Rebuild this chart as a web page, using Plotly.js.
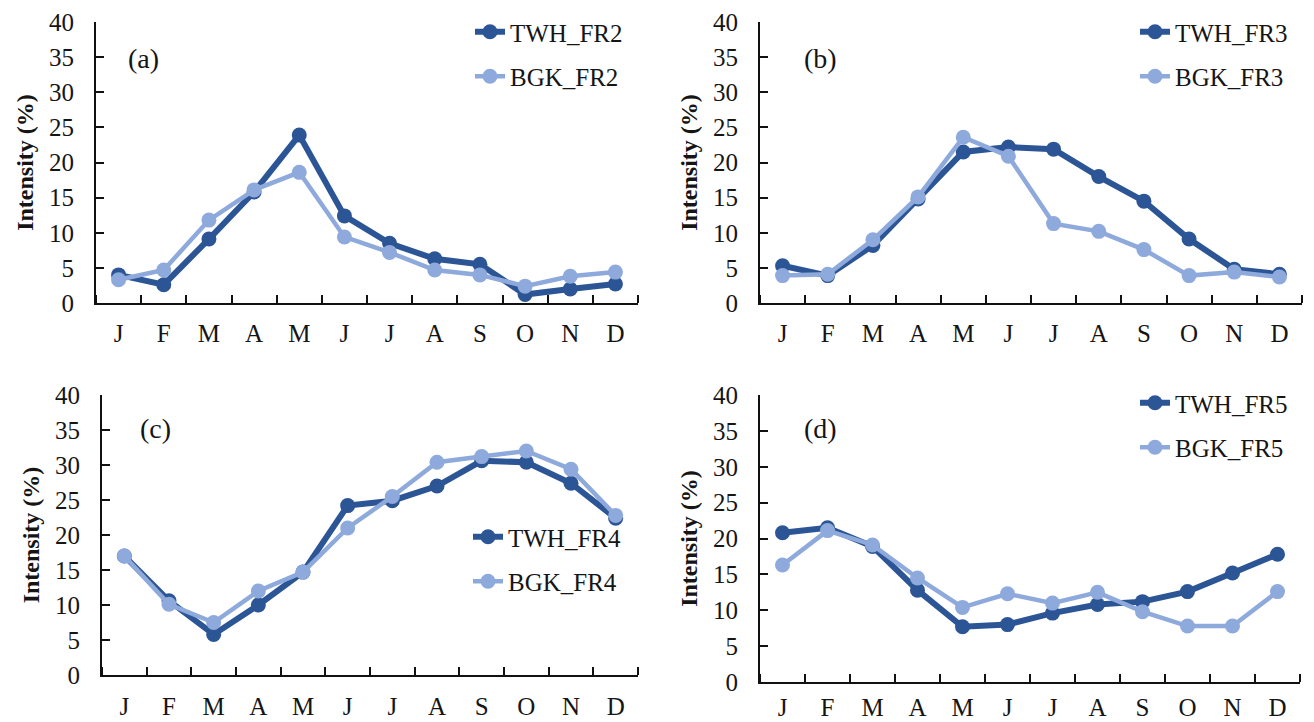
<!DOCTYPE html>
<html>
<head>
<meta charset="utf-8">
<script src="https://cdn.plot.ly/plotly-3.0.1.min.js"></script>
<style>
html,body{margin:0;padding:0;background:#fff;}
#chart{width:1314px;height:722px;}
</style>
</head>
<body>
<div id="chart"></div>
<script>
// ---- data ----
const MONTHS = ["J","F","M","A","M","J","J","A","S","O","N","D"];

const TWH_FR2 = [4.0, 2.6, 9.1, 15.8, 23.9, 12.4, 8.5, 6.3, 5.5, 1.2, 2.0, 2.7];
const BGK_FR2 = [3.3, 4.7, 11.8, 16.1, 18.6, 9.4, 7.2, 4.7, 4.0, 2.4, 3.8, 4.4];

const TWH_FR3 = [5.3, 3.9, 8.2, 14.8, 21.5, 22.2, 21.9, 18.0, 14.5, 9.1, 4.8, 4.1];
const BGK_FR3 = [3.9, 4.1, 9.0, 15.1, 23.6, 20.9, 11.3, 10.2, 7.6, 3.9, 4.4, 3.7];

const TWH_FR4 = [17.0, 10.6, 5.8, 10.0, 14.7, 24.2, 24.9, 27.0, 30.6, 30.4, 27.4, 22.4];
const BGK_FR4 = [17.0, 10.1, 7.5, 12.0, 14.7, 21.0, 25.5, 30.4, 31.2, 32.0, 29.4, 22.8];

const TWH_FR5 = [20.8, 21.5, 18.9, 12.8, 7.7, 8.0, 9.6, 10.8, 11.2, 12.6, 15.2, 17.8];
const BGK_FR5 = [16.3, 21.1, 19.1, 14.5, 10.4, 12.3, 11.0, 12.5, 9.8, 7.8, 7.8, 12.6];

const PANELS = [
  {label: "(a)", twhName: "TWH_FR2", bgkName: "BGK_FR2", twh: TWH_FR2, bgk: BGK_FR2},
  {label: "(b)", twhName: "TWH_FR3", bgkName: "BGK_FR3", twh: TWH_FR3, bgk: BGK_FR3},
  {label: "(c)", twhName: "TWH_FR4", bgkName: "BGK_FR4", twh: TWH_FR4, bgk: BGK_FR4},
  {label: "(d)", twhName: "TWH_FR5", bgkName: "BGK_FR5", twh: TWH_FR5, bgk: BGK_FR5}
];
const Y_TICKS = [0, 5, 10, 15, 20, 25, 30, 35, 40];

// ---- styling / layout ----
const W = 1314, H = 722;
const DARK = "#2C5596";
const LIGHT = "#8EA9DB";
const SERIF = "Liberation Serif, Times New Roman, serif";
const TXT = "#151515";

// plot boxes in pixels: [left, right, top, bottom]
const BOXES = [
  [96, 638, 22, 303],
  [760, 1302, 22, 303],
  [102, 638, 395, 675],
  [760, 1300, 395, 682]
];
// x tick label standoff per panel
const XSTAND = [7, 7, 8, 2];
// legend anchors (px): left, top
const LEGPOS = [
  [470, 9],
  [1135, 9],
  [468, 514],
  [1135, 380]
];
// panel label centers (px)
const LABPOS = [
  [143, 58], [820, 58], [155, 428], [820, 428]
];

const xIdx = MONTHS.map((_, i) => i);
const boundaries = MONTHS.map((_, i) => i - 0.5).concat([MONTHS.length - 0.5]);

const traces = [];
const layout = {
  width: W, height: H,
  margin: {l: 0, r: 0, t: 0, b: 0},
  paper_bgcolor: "#fff",
  plot_bgcolor: "rgba(0,0,0,0)",
  showlegend: true,
  font: {family: SERIF, color: TXT, size: 24},
  annotations: []
};

PANELS.forEach((p, k) => {
  const n = k + 1;
  const xa = n === 1 ? "x" : "x" + n;
  const ya = n === 1 ? "y" : "y" + n;
  const legName = n === 1 ? "legend" : "legend" + n;
  traces.push({
    x: xIdx, y: p.twh, name: p.twhName, type: "scatter", mode: "lines+markers",
    xaxis: xa, yaxis: ya, legend: legName, legendgroup: "t" + n,
    line: {color: DARK, width: 6},
    marker: {color: DARK, size: 15}
  });
  traces.push({
    x: xIdx, y: p.bgk, name: p.bgkName, type: "scatter", mode: "lines+markers",
    xaxis: xa, yaxis: ya, legend: legName, legendgroup: "b" + n,
    line: {color: LIGHT, width: 4.5},
    marker: {color: LIGHT, size: 15}
  });

  const b = BOXES[k];
  const xKey = n === 1 ? "xaxis" : "xaxis" + n;
  const yKey = n === 1 ? "yaxis" : "yaxis" + n;
  layout[xKey] = {
    domain: [b[0] / W, b[1] / W],
    anchor: ya,
    range: [-0.5, MONTHS.length - 0.5],
    tickmode: "array",
    tickvals: xIdx,
    ticktext: MONTHS,
    ticks: "",
    ticklabelstandoff: XSTAND[k],
    tickfont: {family: SERIF, size: 25, color: TXT},
    showline: true, linecolor: "#111", linewidth: 2,
    showgrid: false, zeroline: false, automargin: false,
    fixedrange: true,
    minor: {tickmode: "array", tickvals: boundaries, ticks: "inside", ticklen: 8, tickwidth: 2, tickcolor: "#111", showgrid: false}
  };
  layout[yKey] = {
    domain: [1 - b[3] / H, 1 - b[2] / H],
    anchor: xa,
    range: [0, 40],
    tickmode: "array",
    tickvals: Y_TICKS,
    ticks: "inside", ticklen: 8, tickwidth: 2, tickcolor: "#111",
    ticklabelstandoff: 15,
    tickfont: {family: SERIF, size: 25, color: TXT},
    showline: true, linecolor: "#111", linewidth: 2,
    showgrid: false, zeroline: false, automargin: false,
    fixedrange: true,
    title: {text: "Intensity (%)", standoff: 9, font: {family: SERIF, size: 24, weight: "bold", color: TXT}}
  };
  layout[legName] = {
    x: LEGPOS[k][0] / W, y: 1 - LEGPOS[k][1] / H,
    xanchor: "left", yanchor: "top",
    bgcolor: "rgba(0,0,0,0)",
    borderwidth: 0,
    tracegroupgap: 9,
    font: {family: SERIF, size: 25, color: TXT}
  };
  layout.annotations.push({
    xref: "paper", yref: "paper",
    x: LABPOS[k][0] / W, y: 1 - LABPOS[k][1] / H,
    xanchor: "center", yanchor: "middle",
    text: p.label, showarrow: false,
    font: {family: SERIF, size: 28, color: TXT}
  });
});

Plotly.newPlot("chart", traces, layout, {displayModeBar: false, staticPlot: true});
</script>
</body>
</html>
